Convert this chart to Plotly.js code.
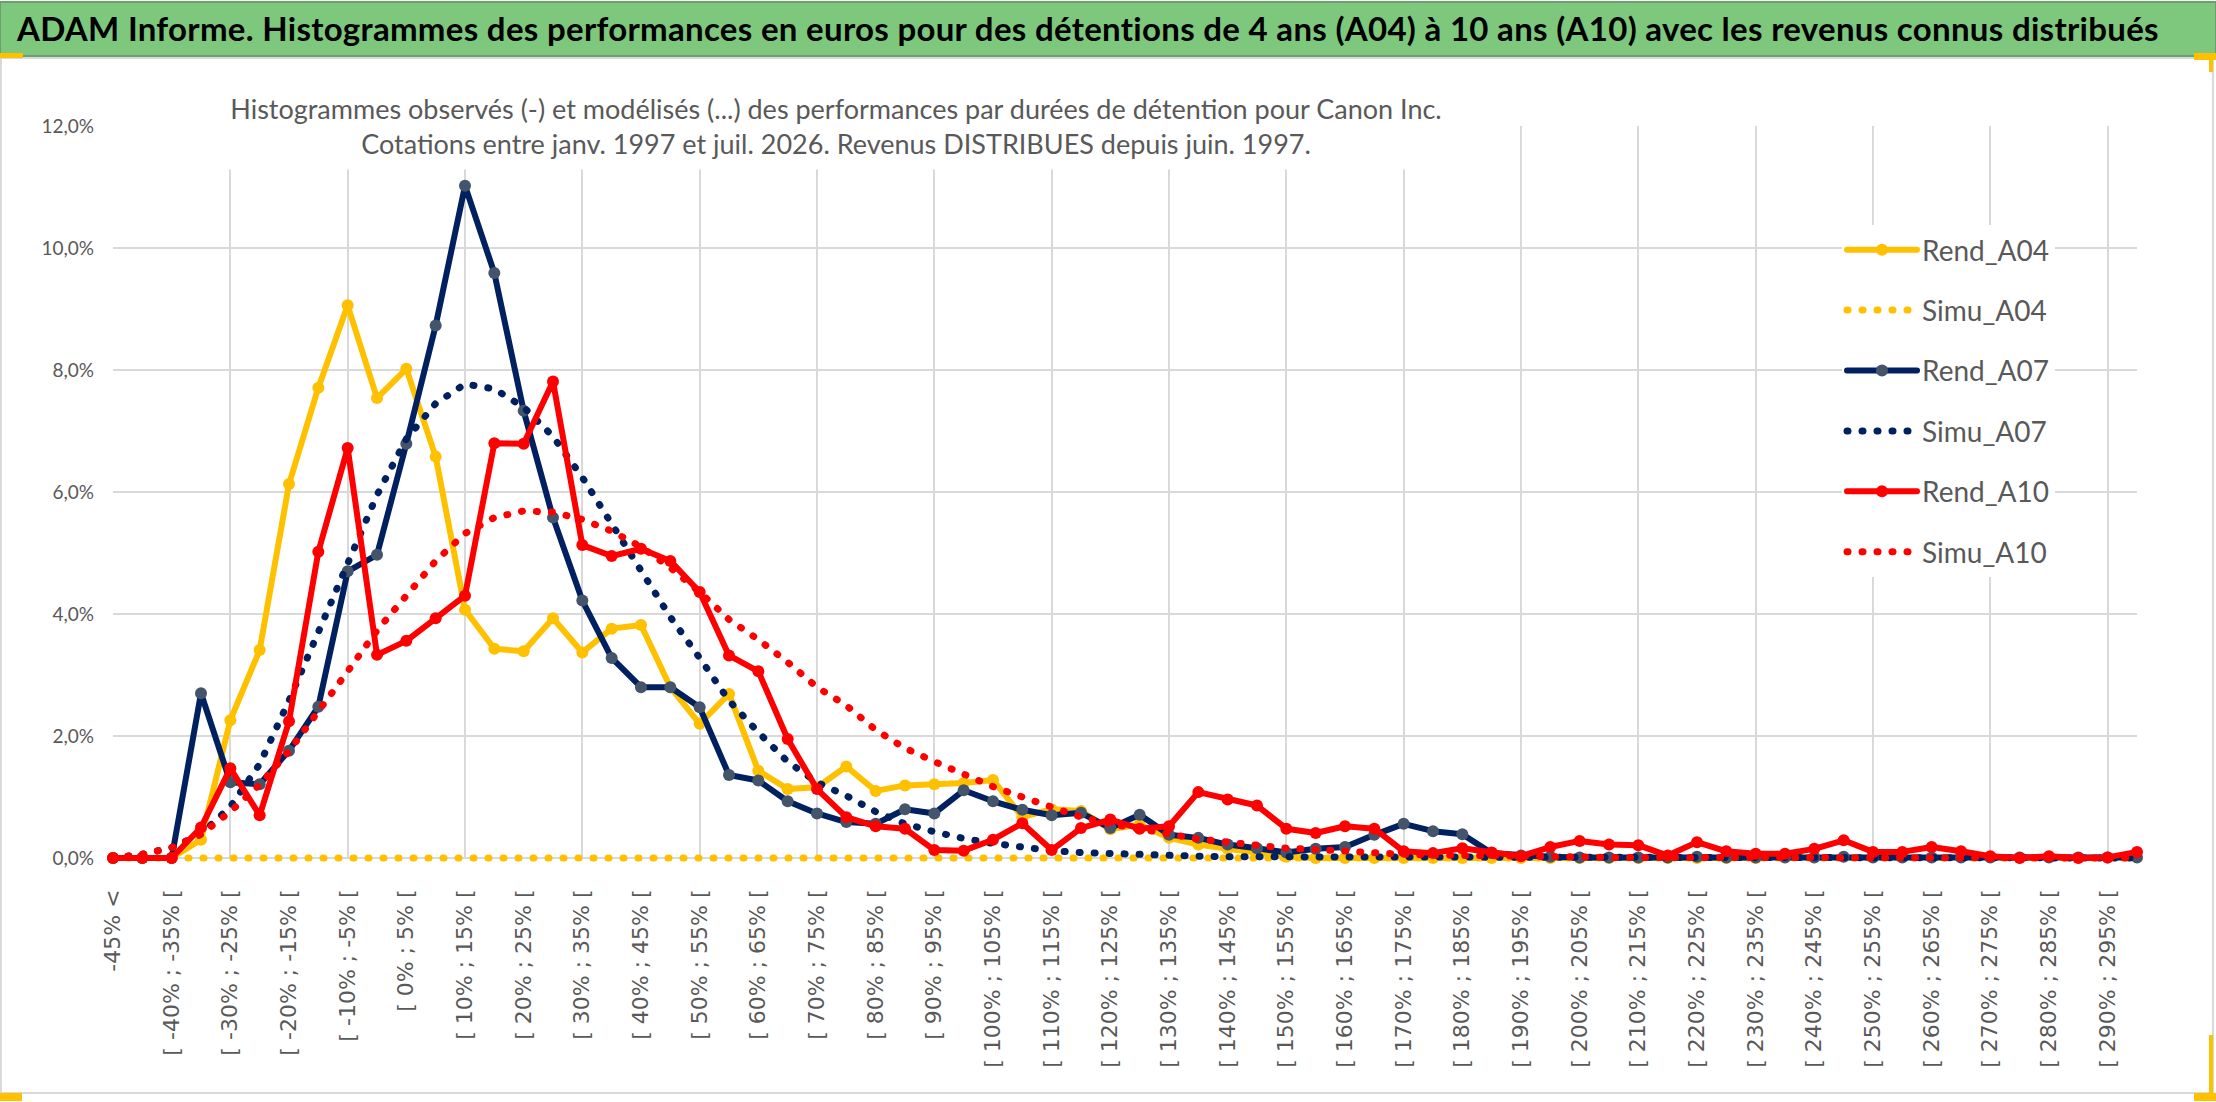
<!DOCTYPE html>
<html>
<head>
<meta charset="utf-8">
<script src="https://cdn.plot.ly/plotly-3.0.1.min.js"></script>
<style>
  html, body { margin: 0; padding: 0; background: #ffffff; }
  #chart { width: 2216px; height: 1102px; }
  .js-line { stroke-linecap: round !important; stroke-linejoin: round !important; }
  .gtitle { letter-spacing: 0.3px; }
  .cartesianlayer .plot, .scatterlayer, .scatterlayer * { clip-path: none !important; }
</style>
</head>
<body>
<div id="chart"></div>
<script>
// ---------- DATA ----------
const categories = [
  "-45% <", "[ -45% ; -40% [", "[ -40% ; -35% [", "[ -35% ; -30% [", "[ -30% ; -25% [",
  "[ -25% ; -20% [", "[ -20% ; -15% [", "[ -15% ; -10% [", "[ -10% ; -5% [", "[ -5% ; 0% [",
  "[ 0% ; 5% [", "[ 5% ; 10% [", "[ 10% ; 15% [", "[ 15% ; 20% [", "[ 20% ; 25% [",
  "[ 25% ; 30% [", "[ 30% ; 35% [", "[ 35% ; 40% [", "[ 40% ; 45% [", "[ 45% ; 50% [",
  "[ 50% ; 55% [", "[ 55% ; 60% [", "[ 60% ; 65% [", "[ 65% ; 70% [", "[ 70% ; 75% [",
  "[ 75% ; 80% [", "[ 80% ; 85% [", "[ 85% ; 90% [", "[ 90% ; 95% [", "[ 95% ; 100% [",
  "[ 100% ; 105% [", "[ 105% ; 110% [", "[ 110% ; 115% [", "[ 115% ; 120% [", "[ 120% ; 125% [",
  "[ 125% ; 130% [", "[ 130% ; 135% [", "[ 135% ; 140% [", "[ 140% ; 145% [", "[ 145% ; 150% [",
  "[ 150% ; 155% [", "[ 155% ; 160% [", "[ 160% ; 165% [", "[ 165% ; 170% [", "[ 170% ; 175% [",
  "[ 175% ; 180% [", "[ 180% ; 185% [", "[ 185% ; 190% [", "[ 190% ; 195% [", "[ 195% ; 200% [",
  "[ 200% ; 205% [", "[ 205% ; 210% [", "[ 210% ; 215% [", "[ 215% ; 220% [", "[ 220% ; 225% [",
  "[ 225% ; 230% [", "[ 230% ; 235% [", "[ 235% ; 240% [", "[ 240% ; 245% [", "[ 245% ; 250% [",
  "[ 250% ; 255% [", "[ 255% ; 260% [", "[ 260% ; 265% [", "[ 265% ; 270% [", "[ 270% ; 275% [",
  "[ 275% ; 280% [", "[ 280% ; 285% [", "[ 285% ; 290% [", "[ 290% ; 295% [", "[ 295% ; 300% ["
];

// values in percent
const rendA04 = [
  0, 0, 0, 0.30, 2.26, 3.41, 6.13, 7.71, 9.06, 7.54,
  8.02, 6.58, 4.07, 3.43, 3.39, 3.93, 3.37, 3.76, 3.82, 2.80,
  2.20, 2.69, 1.43, 1.13, 1.16, 1.50, 1.10, 1.19, 1.21, 1.23,
  1.28, 0.67, 0.80, 0.77, 0.47, 0.55, 0.33, 0.22, 0.15, 0.08,
  0.02, 0, 0, 0, 0, 0, 0, 0, 0, 0,
  0, 0, 0, 0, 0, 0, 0, null, null, null,
  null, null, null, null, null, null, null, null, null, null
];
const simuA04 = [
  0, 0, 0, 0, 0, 0, 0, 0, 0, 0,
  0, 0, 0, 0, 0, 0, 0, 0, 0, 0,
  0, 0, 0, 0, 0, 0, 0, 0, 0, 0,
  0, 0, 0, 0, 0, 0, 0, 0, 0, 0,
  0, 0, 0, 0, 0, 0, 0, 0, 0, 0,
  0, 0, 0, 0, 0, 0, 0, 0, 0, 0,
  0, 0, 0, 0, 0, 0, 0, 0, 0, 0
];
const rendA07 = [
  0, 0, 0, 2.70, 1.24, 1.21, 1.76, 2.48, 4.70, 4.97,
  6.79, 8.73, 11.02, 9.59, 7.33, 5.58, 4.22, 3.28, 2.80, 2.80,
  2.47, 1.36, 1.27, 0.93, 0.73, 0.59, 0.56, 0.80, 0.73, 1.11,
  0.93, 0.79, 0.70, 0.74, 0.49, 0.71, 0.38, 0.33, 0.22, 0.16,
  0.09, 0.15, 0.18, 0.38, 0.56, 0.44, 0.39, 0.08, 0.04, 0.02,
  0.01, 0.01, 0.01, 0.01, 0.02, 0.01, 0.01, 0.01, 0.01, 0.02,
  0.01, 0.01, 0.01, 0.01, 0.01, 0.01, 0.01, 0.01, 0.01, 0.01
];
const simuA07 = [
  0, 0.06, 0.17, 0.39, 0.84, 1.54, 2.58, 3.69, 4.84, 5.95,
  6.87, 7.45, 7.77, 7.69, 7.39, 6.91, 6.24, 5.47, 4.73, 3.95,
  3.28, 2.58, 2.06, 1.58, 1.24, 1.02, 0.76, 0.56, 0.43, 0.32,
  0.24, 0.18, 0.12, 0.09, 0.07, 0.05, 0.04, 0.03, 0.02, 0.02,
  0.01, 0.01, 0.01, 0.01, 0.01, 0.01, 0, 0, 0, 0,
  0, 0, 0, 0, 0, 0, 0, 0, 0, 0,
  0, 0, 0, 0, 0, 0, 0, 0, 0, 0
];
const rendA10 = [
  0, 0, 0, 0.50, 1.47, 0.70, 2.24, 5.02, 6.72, 3.33,
  3.56, 3.93, 4.30, 6.80, 6.79, 7.81, 5.13, 4.95, 5.07, 4.87,
  4.36, 3.32, 3.06, 1.95, 1.13, 0.67, 0.52, 0.48, 0.13, 0.12,
  0.30, 0.57, 0.13, 0.49, 0.63, 0.48, 0.52, 1.08, 0.96, 0.86,
  0.48, 0.41, 0.52, 0.48, 0.11, 0.08, 0.16, 0.09, 0.03, 0.18,
  0.28, 0.22, 0.21, 0.04, 0.26, 0.11, 0.07, 0.07, 0.15, 0.29,
  0.10, 0.10, 0.18, 0.11, 0.03, 0, 0.03, 0, 0.01, 0.10
];
const simuA10 = [
  0, 0.06, 0.17, 0.39, 0.76, 1.20, 1.75, 2.39, 3.06, 3.73,
  4.30, 4.87, 5.32, 5.58, 5.69, 5.67, 5.55, 5.36, 5.10, 4.76,
  4.36, 3.91, 3.58, 3.21, 2.80, 2.50, 2.10, 1.80, 1.58, 1.36,
  1.17, 1.00, 0.82, 0.67, 0.56, 0.47, 0.38, 0.31, 0.26, 0.20,
  0.16, 0.14, 0.11, 0.08, 0.06, 0.05, 0.04, 0.03, 0.02, 0.02,
  0.01, 0.01, 0.01, 0.01, 0.01, 0.01, 0.01, 0.01, 0.01, 0.01,
  0.01, 0.01, 0.01, 0.01, 0, 0, 0, 0, 0, 0
];
const seriesNames = ["Rend_A04", "Simu_A04", "Rend_A07", "Simu_A07", "Rend_A10", "Simu_A10"];
const mainTitle = "ADAM Informe. Histogrammes des performances en euros pour des détentions de 4 ans (A04) à 10 ans (A10) avec les revenus connus distribués";
const chartTitle = "Histogrammes observés (-) et modélisés (...) des performances par durées de détention pour Canon Inc.<br>Cotations entre janv. 1997 et juil. 2026. Revenus DISTRIBUES depuis juin. 1997.";

// ---------- LAYOUT ----------
const W = 2216, H = 1102;
const M = { l: 113, r: 79, t: 126, b: 244 };
const PW = W - M.l - M.r, PH = H - M.t - M.b;
const px = v => (v - M.l) / PW;          // page px -> paper x
const py = v => (H - M.b - v) / PH;      // page px -> paper y

const YELLOW = "#FFC000", NAVY = "#002060", RED = "#FF0000", NAVYMK = "#44546A";
const GRID = "#D9D9D9", TXT = "#595959";
const CAL = "Lato, 'Open Sans', sans-serif";
const DOT = "1px,14px";

function rend(name, y, color, mk) {
  return { type: "scatter", mode: "lines+markers", name: name, x: categories, y: y,
    legendgroup: name, cliponaxis: false,
    line: { color: color, width: 6 }, marker: { color: mk, size: 12, line: { width: 0 } } };
}
function simu(name, y, color) {
  return { type: "scatter", mode: "lines", name: name, x: categories, y: y,
    legendgroup: name, cliponaxis: false,
    line: { color: color, width: 7, dash: DOT } };
}

const data = [
  rend(seriesNames[0], rendA04, YELLOW, YELLOW),
  simu(seriesNames[1], simuA04, YELLOW),
  rend(seriesNames[2], rendA07, NAVY, NAVYMK),
  simu(seriesNames[3], simuA07, NAVY),
  rend(seriesNames[4], rendA10, RED, RED),
  simu(seriesNames[5], simuA10, RED),
  // invisible carrier so that the vertical grid axis (x2) is drawn
  { type: "scatter", mode: "markers", xaxis: "x2", yaxis: "y",
    x: [0, categories.length - 1], y: [0, 0], marker: { opacity: 0, size: 1 },
    showlegend: false, hoverinfo: "skip" }
];

const layout = {
  width: W, height: H,
  margin: M,
  paper_bgcolor: "#ffffff", plot_bgcolor: "rgba(0,0,0,0)",
  separators: ", ",
  showlegend: true,
  title: { text: mainTitle, xref: "container", yref: "container", x: 17 / W, xanchor: "left",
           y: 1 - 29 / H, yanchor: "middle",
           font: { family: CAL, size: 33, color: "#000000", weight: "bold" } },
  xaxis: {
    type: "category", range: [0, categories.length - 1],
    tickmode: "linear", tick0: 0, dtick: 2, tickangle: -90,
    showgrid: false, zeroline: false, showline: false, ticks: "",
    ticklabelstandoff: 26,
    tickfont: { family: "'DejaVu Sans', sans-serif", size: 22, color: TXT }
  },
  xaxis2: {
    type: "linear", overlaying: "x", anchor: "y", side: "bottom", range: [0, categories.length - 1],
    tickmode: "linear", tick0: 0, dtick: 4, showgrid: true, gridcolor: GRID, gridwidth: 2,
    showticklabels: false, ticks: "", zeroline: false, showline: false
  },
  yaxis: {
    range: [0, 12], tickmode: "linear", tick0: 0, dtick: 2,
    tickformat: ".1f", ticksuffix: "%",
    showgrid: true, gridcolor: GRID, gridwidth: 2,
    zeroline: true, zerolinecolor: GRID, zerolinewidth: 2,
    showline: false, ticks: "", ticklabelstandoff: 18,
    tickfont: { family: CAL, size: 19, color: TXT }
  },
  legend: {
    x: px(1842), y: py(225), xanchor: "left", yanchor: "top",
    bgcolor: "#ffffff", borderwidth: 0, tracegroupgap: 21,
    font: { family: CAL, size: 28, color: TXT },
    itemwidth: 70
  },
  annotations: [{
    text: chartTitle, xref: "paper", yref: "paper",
    x: px(836), y: py(126), xanchor: "center", yanchor: "middle",
    width: 1300, height: 84, bgcolor: "#ffffff", showarrow: false,
    font: { family: CAL, size: 27, color: TXT }
  }],
  shapes: [
    // green title band
    { type: "rect", xref: "paper", yref: "paper", x0: px(0), x1: px(W), y0: py(56), y1: py(2),
      fillcolor: "#7DC87D", line: { width: 2, color: "#6E9E6E" }, layer: "below" },
    // chart frame
    { type: "rect", xref: "paper", yref: "paper", x0: px(1), x1: px(2213), y0: py(1093), y1: py(58),
      fillcolor: "rgba(0,0,0,0)", line: { width: 2, color: GRID }, layer: "below" },
    // small yellow handles
    { type: "rect", xref: "paper", yref: "paper", x0: px(0), x1: px(23), y0: py(58), y1: py(53),
      fillcolor: YELLOW, line: { width: 0 } },
    { type: "rect", xref: "paper", yref: "paper", x0: px(0), x1: px(22), y0: py(1101), y1: py(1093),
      fillcolor: YELLOW, line: { width: 0 } },
    { type: "rect", xref: "paper", yref: "paper", x0: px(2194), x1: px(2216), y0: py(60), y1: py(53),
      fillcolor: YELLOW, line: { width: 0 } },
    { type: "rect", xref: "paper", yref: "paper", x0: px(2209), x1: px(2213), y0: py(72), y1: py(53),
      fillcolor: YELLOW, line: { width: 0 } },
    { type: "rect", xref: "paper", yref: "paper", x0: px(2209), x1: px(2213), y0: py(1100), y1: py(1035),
      fillcolor: YELLOW, line: { width: 0 } },
    { type: "rect", xref: "paper", yref: "paper", x0: px(2194), x1: px(2216), y0: py(1101), y1: py(1093),
      fillcolor: YELLOW, line: { width: 0 } }
  ]
};

Plotly.newPlot("chart", data, layout, { displayModeBar: false, staticPlot: true });
</script>
</body>
</html>
